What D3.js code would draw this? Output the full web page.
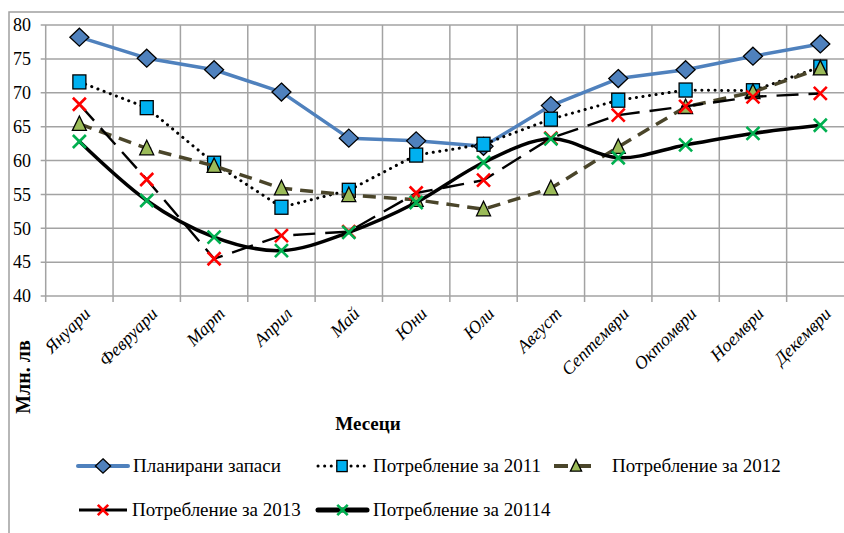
<!DOCTYPE html>
<html>
<head>
<meta charset="utf-8">
<script src="https://cdn.jsdelivr.net/npm/d3@7"></script>
<style>
  html, body { margin: 0; padding: 0; background: #fff; }
  svg { display: block; }
  svg text { font-family: Liberation Serif, Tinos, Times New Roman, Times, DejaVu Serif, serif; }
</style>
</head>
<body>
<svg id="chart" width="844" height="533"></svg>
<script>
// Monthly stock plan vs. consumption, million leva
const months = ["Януари", "Февруари", "Март", "Април", "Май", "Юни", "Юли", "Август", "Септември", "Октомври", "Ноември", "Декември"];
const planned = [78.2, 75.1, 73.4, 70.1, 63.3, 62.9, 62.1, 68.1, 72.1, 73.4, 75.4, 77.2];
const use2011 = [71.6, 67.8, 59.6, 53.1, 55.6, 60.8, 62.4, 66.1, 68.9, 70.4, 70.3, 73.8];
const use2012 = [65.4, 61.8, 59.2, 55.9, 54.9, 54.2, 52.8, 55.9, 62.0, 67.9, 70.1, 73.6];
const use2013 = [68.3, 57.2, 45.5, 48.9, 49.5, 55.2, 57.1, 63.3, 66.7, 68.0, 69.4, 69.9];
const use2014 = [62.8, 54.1, 48.7, 46.7, 49.4, 53.8, 59.7, 63.2, 60.4, 62.3, 64.0, 65.2];
const seriesNames = ["Планирани запаси", "Потребление за 2011", "Потребление за 2012", "Потребление за 2013", "Потребление за 20114"];
const yTicks = [40, 45, 50, 55, 60, 65, 70, 75, 80];
const yTitle = "Млн. лв";
const xTitle = "Месеци";

const svg = d3.select("#chart");

// chart frame
svg.append("rect").attr("x", 9).attr("y", 12).attr("width", 900).attr("height", 600)
  .attr("fill", "none").attr("stroke", "#a0a0a0").attr("stroke-width", 1.5);

const plot = { left: 45.7, right: 854, top: 25, bottom: 296 };
const x = d3.scaleBand().domain(months).range([plot.left, plot.right]).padding(0);
const y = d3.scaleLinear().domain([40, 80]).range([plot.bottom, plot.top]);
const cx = m => x(m) + x.bandwidth() / 2;

const grid = svg.append("g").attr("stroke", "#a3a3a3").attr("stroke-width", 1.5);
// horizontal grid + y ticks
grid.selectAll("line.h").data(yTicks).join("line")
  .attr("x1", plot.left - 5).attr("x2", plot.right)
  .attr("y1", d => y(d)).attr("y2", d => y(d));
// vertical grid at category boundaries + x ticks
const bounds = months.map(m => x(m)).concat([plot.right]);
grid.selectAll("line.v").data(bounds).join("line")
  .attr("x1", d => d).attr("x2", d => d)
  .attr("y1", plot.top).attr("y2", plot.bottom + 6);

// y axis labels
svg.append("g").selectAll("text").data(yTicks).join("text")
  .attr("x", 31).attr("y", d => y(d)).attr("dy", "0.35em")
  .attr("text-anchor", "end").attr("font-size", 18).text(d => d);

// x axis labels, rotated
svg.append("g").selectAll("text").data(months).join("text")
  .attr("transform", d => `translate(${cx(d) + 3},${plot.bottom + 10}) rotate(-45)`)
  .attr("text-anchor", "end").attr("dy", "0.7em")
  .attr("font-size", 18).attr("font-style", "italic").text(d => d);

// axis titles
svg.append("text").attr("transform", "translate(30,377) rotate(-90)")
  .attr("text-anchor", "middle").attr("font-size", 20).attr("font-weight", "bold").text(yTitle);
svg.append("text").attr("x", 368).attr("y", 430)
  .attr("text-anchor", "middle").attr("font-size", 19).attr("font-weight", "bold").text(xTitle);

// marker painters
const markers = {
  diamond: (g, s) => g.append("path").attr("d", `M0,${-9*s}L${9.5*s},0L0,${9*s}L${-9.5*s},0Z`)
    .attr("fill", "#4f81bd").attr("stroke", "#000").attr("stroke-width", 1.3),
  square: (g, s) => g.append("rect").attr("x", -6.5*s).attr("y", -7*s).attr("width", 13*s).attr("height", 14*s)
    .attr("fill", "#00b0f0").attr("stroke", "#000").attr("stroke-width", 1.3),
  triangle: (g, s) => g.append("path").attr("d", `M0,${-8*s}L${7*s},${6.5*s}L${-7*s},${6.5*s}Z`)
    .attr("fill", "#9bbb59").attr("stroke", "#000").attr("stroke-width", 1.3),
  xred: (g, s) => g.append("path").attr("d", `M${-6.5*s},${-6.5*s}L${6.5*s},${6.5*s}M${6.5*s},${-6.5*s}L${-6.5*s},${6.5*s}`)
    .attr("stroke", "#ff0000").attr("stroke-width", 2.6).attr("fill", "none"),
  xgreen: (g, s) => g.append("path").attr("d", `M${-6.5*s},${-6.5*s}L${6.5*s},${6.5*s}M${6.5*s},${-6.5*s}L${-6.5*s},${6.5*s}`)
    .attr("stroke", "#00b050").attr("stroke-width", 2.6).attr("fill", "none")
};

const series = [
  { name: seriesNames[0], values: planned, stroke: "#4f81bd", width: 3.5, dash: null, cap: "round", curve: d3.curveLinear, marker: "diamond" },
  { name: seriesNames[1], values: use2011, stroke: "#000", width: 3, dash: "0.1,6.5", cap: "round", curve: d3.curveLinear, marker: "square" },
  { name: seriesNames[2], values: use2012, stroke: "#4a452a", width: 3.5, dash: "13,8", cap: "butt", curve: d3.curveLinear, marker: "triangle" },
  { name: seriesNames[3], values: use2013, stroke: "#000", width: 2.4, dash: "22,10", cap: "butt", curve: d3.curveLinear, marker: "xred" },
  { name: seriesNames[4], values: use2014, stroke: "#000", width: 3.5, dash: null, cap: "round", curve: d3.curveCardinal, marker: "xgreen" }
];

series.forEach(s => {
  const line = d3.line().x((d, i) => cx(months[i])).y(d => y(d)).curve(s.curve);
  svg.append("path").datum(s.values).attr("d", line)
    .attr("fill", "none").attr("stroke", s.stroke).attr("stroke-width", s.width)
    .attr("stroke-dasharray", s.dash).attr("stroke-linecap", s.cap).attr("stroke-linejoin", "round");
  const mg = svg.append("g");
  s.values.forEach((v, i) => {
    const g = mg.append("g").attr("transform", `translate(${cx(months[i])},${y(v)})`);
    markers[s.marker](g, 1);
  });
});

// legend
const legendPos = [
  { x0: 78, x1: 128, tx: 133, y: 466 },
  { x0: 318, x1: 366, tx: 373, y: 466 },
  { x0: 554, x1: 598, tx: 612, y: 466 },
  { x0: 79, x1: 127, tx: 132, y: 510 },
  { x0: 318, x1: 367, tx: 373, y: 510 }
];
const legendStyle = [
  { width: 4, dash: null },
  { width: 3, dash: "0.1,6.5" },
  { width: 4, dash: "14,9" },
  { width: 3, dash: null },
  { width: 5, dash: null }
];
const legend = svg.append("g");
series.forEach((s, i) => {
  const p = legendPos[i], st = legendStyle[i];
  const g = legend.append("g");
  g.append("line").attr("x1", p.x0).attr("x2", p.x1).attr("y1", p.y).attr("y2", p.y)
    .attr("stroke", s.stroke).attr("stroke-width", st.width)
    .attr("stroke-dasharray", st.dash).attr("stroke-linecap", s.cap);
  const mg = g.append("g").attr("transform", `translate(${(p.x0 + p.x1) / 2},${p.y})`);
  markers[s.marker](mg, 0.8);
  g.append("text").attr("x", p.tx).attr("y", p.y).attr("dy", "0.33em")
    .attr("font-size", 19).text(s.name);
});
</script>
</body>
</html>
